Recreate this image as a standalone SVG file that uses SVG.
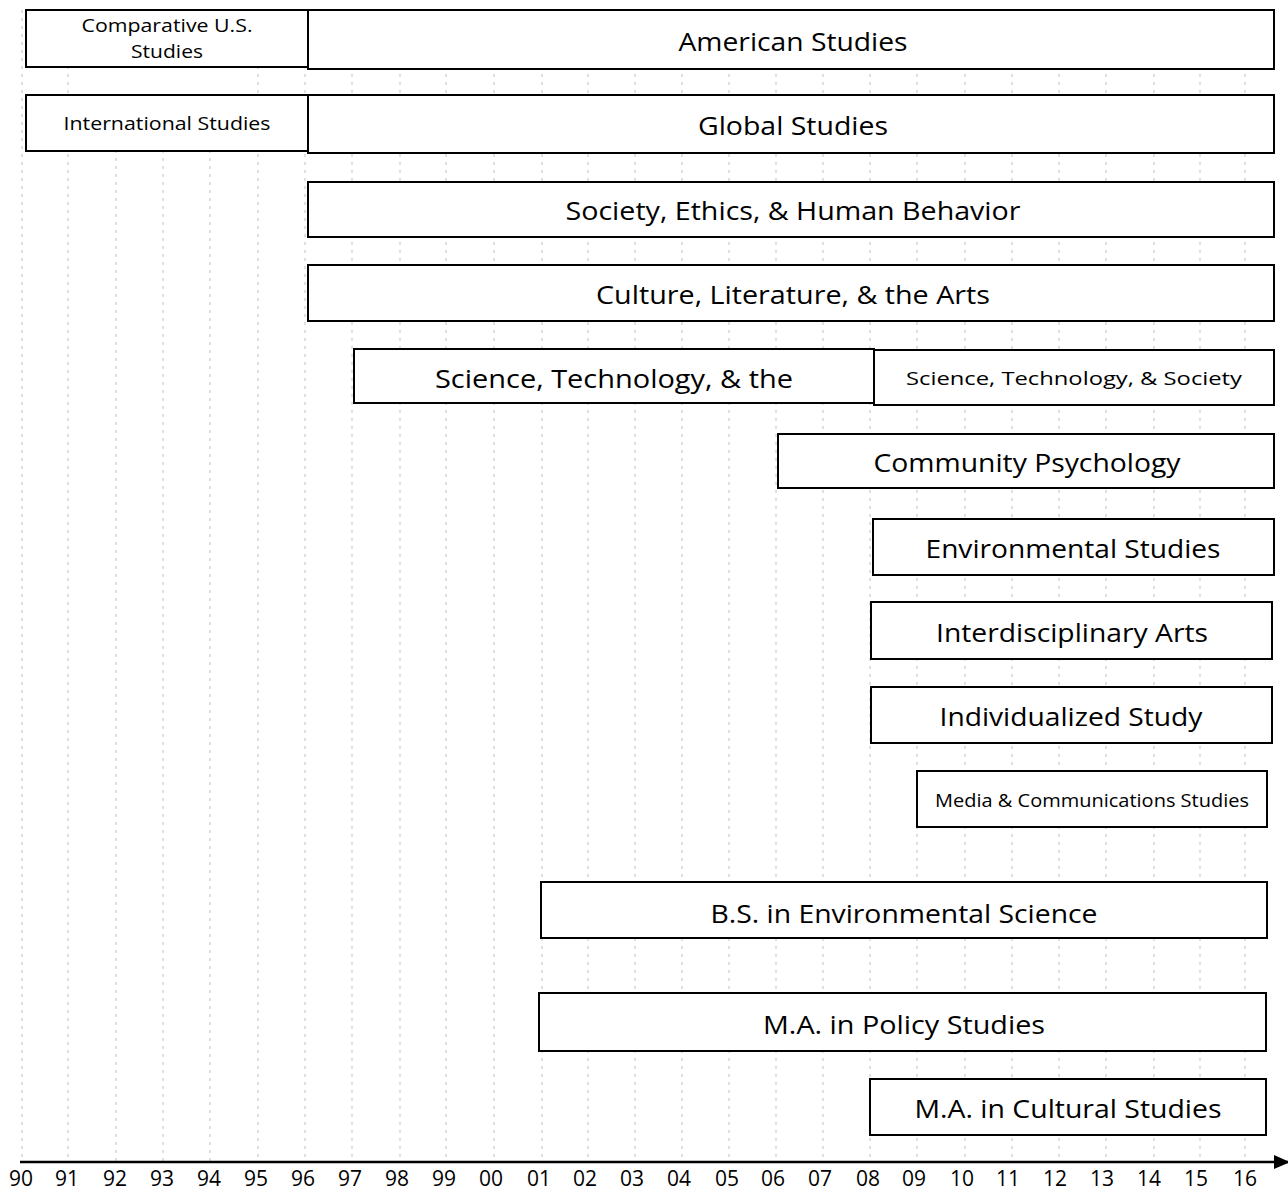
<svg xmlns="http://www.w3.org/2000/svg" width="1288" height="1193" viewBox="0 0 1288 1193">
<style>
.bg{fill:#fff}
.grid line{stroke:#999;stroke-width:1;stroke-dasharray:3 5;opacity:.6}
.box{fill:#fff;stroke:#000;stroke-width:2}
.t{font-family:"Open Sans","Liberation Sans",Arial,sans-serif;font-size:25px;fill:#000;text-anchor:middle;dominant-baseline:central}
.s{font-size:19px}
.yr{font-family:"Open Sans","Liberation Sans",Arial,sans-serif;font-size:21px;fill:#000;text-anchor:middle}
.axis{stroke:#000;stroke-width:2.5}
</style>
<defs>
<marker id="arr" markerWidth="16" markerHeight="14" refX="14" refY="7" orient="auto" markerUnits="userSpaceOnUse"><path d="M0,0 L16,7 L0,14 Z" fill="#000"/></marker>
</defs>
<rect class="bg" width="1288" height="1193"/>
<g class="grid">
<line x1="22" y1="10" x2="22" y2="1162"/><line x1="68" y1="10" x2="68" y2="1162"/><line x1="116" y1="150" x2="116" y2="1162"/><line x1="163" y1="150" x2="163" y2="1162"/><line x1="210" y1="150" x2="210" y2="1162"/><line x1="258" y1="10" x2="258" y2="1162"/><line x1="305" y1="10" x2="305" y2="1162"/><line x1="352" y1="10" x2="352" y2="1162"/><line x1="400" y1="10" x2="400" y2="1162"/><line x1="446" y1="10" x2="446" y2="1162"/><line x1="494" y1="10" x2="494" y2="1162"/><line x1="542" y1="10" x2="542" y2="1162"/><line x1="588" y1="10" x2="588" y2="1162"/><line x1="635" y1="10" x2="635" y2="1162"/><line x1="682" y1="10" x2="682" y2="1162"/><line x1="729" y1="10" x2="729" y2="1162"/><line x1="776" y1="10" x2="776" y2="1162"/><line x1="823" y1="10" x2="823" y2="1162"/><line x1="870" y1="10" x2="870" y2="1162"/><line x1="917" y1="10" x2="917" y2="1162"/><line x1="965" y1="10" x2="965" y2="1162"/><line x1="1012" y1="10" x2="1012" y2="1162"/><line x1="1059" y1="10" x2="1059" y2="1162"/><line x1="1106" y1="10" x2="1106" y2="1162"/><line x1="1154" y1="10" x2="1154" y2="1162"/><line x1="1200" y1="10" x2="1200" y2="1162"/><line x1="1245" y1="10" x2="1245" y2="1162"/>
</g>
<g id="n-comparative"><rect class="box" x="26" y="10" width="282" height="57"/><text class="t s" x="167" y="25" textLength="171" lengthAdjust="spacingAndGlyphs">Comparative U.S.</text><text class="t s" x="167" y="51" textLength="72" lengthAdjust="spacingAndGlyphs">Studies</text></g>
<g id="n-american"><rect class="box" x="308" y="10" width="966" height="59"/><text class="t" x="793" y="41" textLength="229" lengthAdjust="spacingAndGlyphs">American Studies</text></g>
<g id="n-international"><rect class="box" x="26" y="95" width="282" height="56"/><text class="t s" x="167" y="123" textLength="207" lengthAdjust="spacingAndGlyphs">International Studies</text></g>
<g id="n-global"><rect class="box" x="308" y="95" width="966" height="58"/><text class="t" x="793" y="125" textLength="190" lengthAdjust="spacingAndGlyphs">Global Studies</text></g>
<g id="n-society"><rect class="box" x="308" y="182" width="966" height="55"/><text class="t" x="793" y="210" textLength="455" lengthAdjust="spacingAndGlyphs">Society, Ethics, &amp; Human Behavior</text></g>
<g id="n-culture"><rect class="box" x="308" y="265" width="966" height="56"/><text class="t" x="793" y="294" textLength="394" lengthAdjust="spacingAndGlyphs">Culture, Literature, &amp; the Arts</text></g>
<g id="n-sci-the"><rect class="box" x="354" y="349" width="520" height="54"/><text class="t" x="614" y="378" textLength="358" lengthAdjust="spacingAndGlyphs">Science, Technology, &amp; the</text></g>
<g id="n-sts"><rect class="box" x="874" y="350" width="400" height="55"/><text class="t s" x="1074" y="378" textLength="336" lengthAdjust="spacingAndGlyphs">Science, Technology, &amp; Society</text></g>
<g id="n-community"><rect class="box" x="778" y="434" width="496" height="54"/><text class="t" x="1027" y="462" textLength="307" lengthAdjust="spacingAndGlyphs">Community Psychology</text></g>
<g id="n-environmental"><rect class="box" x="873" y="519" width="401" height="56"/><text class="t" x="1073" y="548" textLength="295" lengthAdjust="spacingAndGlyphs">Environmental Studies</text></g>
<g id="n-interdisciplinary"><rect class="box" x="871" y="602" width="401" height="57"/><text class="t" x="1072" y="632" textLength="272" lengthAdjust="spacingAndGlyphs">Interdisciplinary Arts</text></g>
<g id="n-individualized"><rect class="box" x="871" y="687" width="401" height="56"/><text class="t" x="1071" y="716" textLength="263" lengthAdjust="spacingAndGlyphs">Individualized Study</text></g>
<g id="n-media"><rect class="box" x="917" y="771" width="350" height="56"/><text class="t s" x="1092" y="800" textLength="314" lengthAdjust="spacingAndGlyphs">Media &amp; Communications Studies</text></g>
<g id="n-bs"><rect class="box" x="541" y="882" width="726" height="56"/><text class="t" x="904" y="913" textLength="387" lengthAdjust="spacingAndGlyphs">B.S. in Environmental Science</text></g>
<g id="n-policy"><rect class="box" x="539" y="993" width="727" height="58"/><text class="t" x="904" y="1024" textLength="282" lengthAdjust="spacingAndGlyphs">M.A. in Policy Studies</text></g>
<g id="n-cultural"><rect class="box" x="870" y="1079" width="396" height="56"/><text class="t" x="1068" y="1108" textLength="307" lengthAdjust="spacingAndGlyphs">M.A. in Cultural Studies</text></g>
<g id="connectors">
<line class="axis" x1="20" y1="1162" x2="1288" y2="1162" marker-end="url(#arr)"/>
</g>
<g id="years">
<text class="yr" x="21" y="1186">90</text><text class="yr" x="67" y="1186">91</text><text class="yr" x="115" y="1186">92</text><text class="yr" x="162" y="1186">93</text><text class="yr" x="209" y="1186">94</text><text class="yr" x="256" y="1186">95</text><text class="yr" x="303" y="1186">96</text><text class="yr" x="350" y="1186">97</text><text class="yr" x="397" y="1186">98</text><text class="yr" x="444" y="1186">99</text><text class="yr" x="491" y="1186">00</text><text class="yr" x="539" y="1186">01</text><text class="yr" x="585" y="1186">02</text><text class="yr" x="632" y="1186">03</text><text class="yr" x="679" y="1186">04</text><text class="yr" x="727" y="1186">05</text><text class="yr" x="773" y="1186">06</text><text class="yr" x="820" y="1186">07</text><text class="yr" x="868" y="1186">08</text><text class="yr" x="914" y="1186">09</text><text class="yr" x="962" y="1186">10</text><text class="yr" x="1008" y="1186">11</text><text class="yr" x="1055" y="1186">12</text><text class="yr" x="1102" y="1186">13</text><text class="yr" x="1149" y="1186">14</text><text class="yr" x="1196" y="1186">15</text><text class="yr" x="1245" y="1186">16</text>
</g>
</svg>
